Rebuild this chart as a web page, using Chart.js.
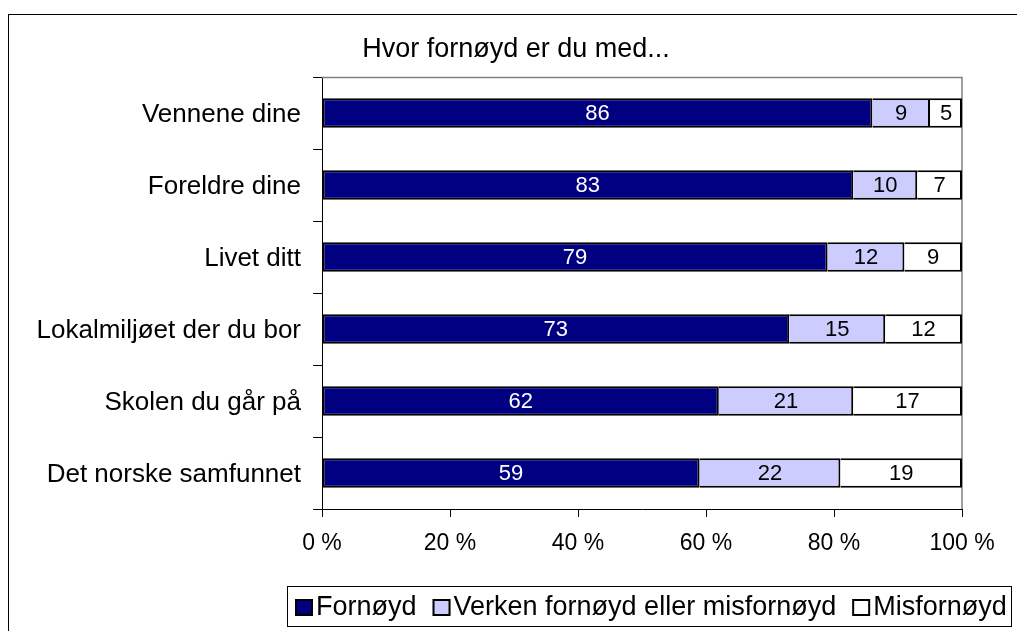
<!DOCTYPE html>
<html>
<head>
<meta charset="utf-8">
<title>Hvor fornøyd er du med...</title>
<script src="https://cdn.jsdelivr.net/npm/chart.js@4.4.1/dist/chart.umd.min.js"></script>
<style>
  html, body { margin: 0; padding: 0; background: #fff; }
  #wrap { position: relative; width: 1017px; height: 631px; }
</style>
</head>
<body>
<div id="wrap"><canvas id="chart" width="1017" height="631"></canvas></div>
<script>
const chartTitle = 'Hvor fornøyd er du med...';
const categories = ['Vennene dine', 'Foreldre dine', 'Livet ditt', 'Lokalmiljøet der du bor', 'Skolen du går på', 'Det norske samfunnet'];
const seriesNames = ['Fornøyd', 'Verken fornøyd eller misfornøyd', 'Misfornøyd'];
const fornoyd = [86, 83, 79, 73, 62, 59];
const verken = [9, 10, 12, 15, 21, 22];
const misfornoyd = [5, 7, 9, 12, 17, 19];
const xTicks = [0, 20, 40, 60, 80, 100];

const FONT = '"Liberation Sans", Arial, sans-serif';

// frame, title, plot border, value labels and boxed legend
const decorations = {
    id: 'decorations',
    beforeDraw(chart) {
        const ctx = chart.ctx;
        ctx.save();
        ctx.strokeStyle = '#000';
        ctx.lineWidth = 1;
        ctx.strokeRect(8.5, 14.5, 1030, 640);
        ctx.restore();
    },
    beforeDatasetsDraw(chart) {
        const ctx = chart.ctx;
        const a = chart.chartArea;
        ctx.save();
        ctx.strokeStyle = '#808080';
        ctx.lineWidth = 1.5;
        ctx.beginPath();
        ctx.moveTo(a.left, a.top + 0.5);
        ctx.lineTo(a.right, a.top + 0.5);
        ctx.lineTo(a.right, a.bottom);
        ctx.stroke();
        ctx.restore();
    },
    afterDatasetsDraw(chart) {
        const ctx = chart.ctx;
        ctx.save();
        ctx.font = '22px ' + FONT;
        ctx.textAlign = 'center';
        ctx.textBaseline = 'middle';
        chart.data.datasets.forEach((ds, i) => {
            const meta = chart.getDatasetMeta(i);
            meta.data.forEach((bar, j) => {
                const p = bar.getProps(['x', 'y', 'base'], true);
                ctx.fillStyle = i === 0 ? '#fff' : '#000';
                ctx.fillText(ds.data[j], (p.x + p.base) / 2, p.y + 1);
            });
        });
        ctx.restore();
    },
    afterDraw(chart) {
        const ctx = chart.ctx;
        ctx.save();
        // title
        ctx.font = '27px ' + FONT;
        ctx.fillStyle = '#000';
        ctx.textAlign = 'center';
        ctx.textBaseline = 'middle';
        ctx.fillText(chartTitle, 516, 50);

        // legend
        ctx.strokeStyle = '#000';
        ctx.lineWidth = 1;
        ctx.strokeRect(287.5, 586.5, 724, 40);
        ctx.textAlign = 'left';
        let x = 295;
        const y = 607;
        chart.data.datasets.forEach(ds => {
            ctx.fillStyle = ds.backgroundColor;
            ctx.fillRect(x, y - 8, 18, 17);
            ctx.lineWidth = 2;
            ctx.strokeRect(x + 1, y - 7, 16, 15);
            ctx.fillStyle = '#000';
            ctx.fillText(ds.label, x + 21, y + 1);
            x += 21 + ctx.measureText(ds.label).width + 16;
        });
        ctx.restore();
    }
};

const ctx = document.getElementById('chart').getContext('2d');
const chart = new Chart(ctx, {
    type: 'bar',
    data: {
        labels: categories,
        datasets: [
            { label: seriesNames[0], data: fornoyd, backgroundColor: '#000080', borderSkipped: false },
            { label: seriesNames[1], data: verken, backgroundColor: '#ccccff', borderSkipped: 'start' },
            { label: seriesNames[2], data: misfornoyd, backgroundColor: '#ffffff', borderSkipped: 'start' }
        ]
    },
    options: {
        indexAxis: 'y',
        responsive: false,
        animation: false,
        layout: { padding: { left: 0, top: 77, right: 55, bottom: 62 } },
        datasets: {
            bar: {
                borderColor: '#000',
                borderWidth: 2,
                barPercentage: 0.41,
                categoryPercentage: 1
            }
        },
        plugins: {
            legend: { display: false },
            title: { display: false },
            tooltip: { enabled: false }
        },
        scales: {
            x: {
                stacked: true,
                min: 0,
                max: 100,
                afterBuildTicks: s => { s.ticks = xTicks.map(v => ({ value: v })); },
                afterFit: s => { s.height = 60; },
                grid: { drawOnChartArea: false, tickLength: 8, color: '#000' },
                border: { color: '#000', width: 1 },
                ticks: {
                    color: '#000',
                    padding: 13,
                    maxRotation: 0,
                    font: { family: FONT, size: 23 },
                    callback: v => v + ' %'
                }
            },
            y: {
                stacked: true,
                afterFit: s => { s.width = 322; },
                grid: { drawOnChartArea: false, tickLength: 9, color: '#000', offset: true },
                border: { color: '#000', width: 1 },
                ticks: {
                    color: '#000',
                    padding: 12,
                    labelOffset: 2,
                    font: { family: FONT, size: 26 }
                }
            }
        }
    },
    plugins: [decorations]
});
</script>
</body>
</html>
